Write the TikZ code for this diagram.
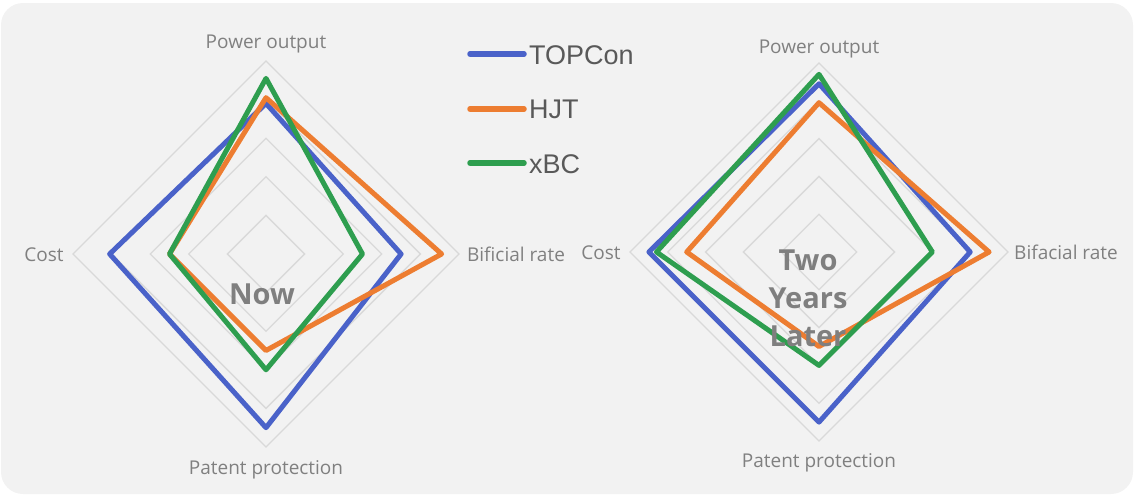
\documentclass[tikz,border=0pt]{standalone}
\usepackage{fontspec}
\setmainfont{Open Sans}
\newfontfamily\legfont{Liberation Sans}
\definecolor{bgc}{HTML}{F2F2F2}
\definecolor{gridc}{HTML}{D9D9D9}
\definecolor{topc}{HTML}{4A62C9}
\definecolor{hjtc}{HTML}{ED7D31}
\definecolor{xbcc}{HTML}{2E9E4F}
\definecolor{labc}{HTML}{808080}
\definecolor{legc}{HTML}{595959}
\definecolor{bigc}{HTML}{7F7F7F}
\tikzset{
  gridline/.style={draw=gridc, line width=1.3pt},
  series/.style={line width=5pt, line join=round},
  axlab/.style={text=labc, font=\fontsize{19}{21}\selectfont, inner sep=0pt, anchor=base},
  leglab/.style={text=legc, font=\legfont\fontsize{27}{30}\selectfont, inner sep=0pt, anchor=base west},
  legline/.style={line width=5.5pt, line cap=round},
  bigtext/.style={text=bigc, font=\bfseries\fontsize{29}{38}\selectfont, inner sep=0pt, align=center},
}
\newcommand{\radargrid}[1]{%
  \foreach \k in {1,...,5}{
    \draw[gridline] (0,{-#1*\k/5}) -- ({#1*\k/5},0) -- (0,{#1*\k/5}) -- ({-#1*\k/5},0) -- cycle;
  }}
\newcommand{\radarpoly}[6]{% R, color, top, right, bottom, left
  \draw[series, draw=#2] (0,{-#1*#3}) -- ({#1*#4},0) -- (0,{#1*#5}) -- ({-#1*#6},0) -- cycle;}
\begin{document}
\begin{tikzpicture}[x=1pt, y=-1pt]
\useasboundingbox (0,0) rectangle (1137,496);
\fill[bgc, rounded corners=22pt] (1,3) rectangle (1133,494);

% left chart
\begin{scope}[shift={(266,254)}]
  \radargrid{193}
  \radarpoly{193}{topc}{0.78}{0.70}{0.90}{0.81}
  \radarpoly{193}{hjtc}{0.81}{0.91}{0.50}{0.50}
  \radarpoly{193}{xbcc}{0.91}{0.50}{0.60}{0.50}
\end{scope}
\node[axlab] (lpo) at (266,48) {Power output};
\node[axlab] (lco) at (44,261) {Cost};
\node[axlab] (lbr) at (516,261) {Bificial rate};
\node[axlab] (lpp) at (266,474) {Patent protection};
\node[bigtext] (now) at (262,294) {Now};

% right chart
\begin{scope}[shift={(819,252)}]
  \radargrid{189}
  \radarpoly{189}{topc}{0.89}{0.80}{0.90}{0.90}
  \radarpoly{189}{hjtc}{0.79}{0.90}{0.50}{0.70}
  \radarpoly{189}{xbcc}{0.94}{0.60}{0.60}{0.86}
\end{scope}
\node[axlab] (rpo) at (819,53) {Power output};
\node[axlab] (rco) at (601,259) {Cost};
\node[axlab] (rbr) at (1066,259) {Bifacial rate};
\node[axlab] (rpp) at (819,467) {Patent protection};
\node[bigtext] (later) at (808,298) {Two\\Years\\Later};

% legend
\coordinate (l1a) at (470,54); \coordinate (l1b) at (524,54);
\coordinate (l2a) at (470,109); \coordinate (l2b) at (524,109);
\coordinate (l3a) at (470,163); \coordinate (l3b) at (524,163);
\draw[legline, topc] (l1a) -- (l1b);
\draw[legline, hjtc] (l2a) -- (l2b);
\draw[legline, xbcc] (l3a) -- (l3b);
\node[leglab] (g1) at (529,64) {TOPCon};
\node[leglab] (g2) at (529,118) {HJT};
\node[leglab] (g3) at (529,173) {xBC};
\end{tikzpicture}
\end{document}
